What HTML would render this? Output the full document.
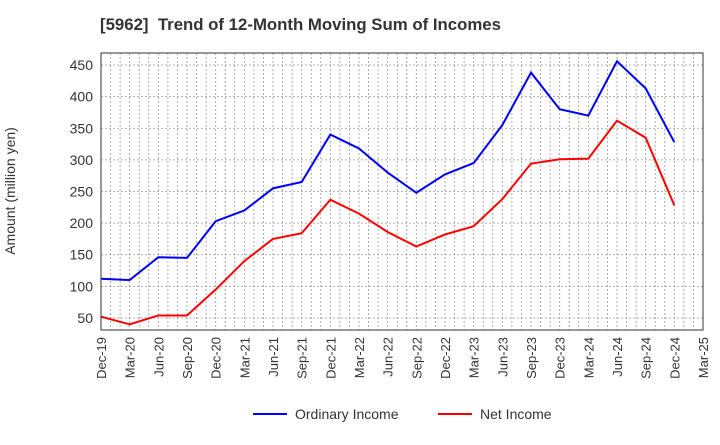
<!DOCTYPE html>
<html><head><meta charset="utf-8"><style>body{margin:0;background:#fff;font-family:"Liberation Sans",sans-serif}</style></head>
<body>
<svg id="c" width="720" height="440" xmlns="http://www.w3.org/2000/svg">
<text x="100" y="30" font-size="16.8" font-weight="bold" fill="#333" xml:space="preserve">[5962]  Trend of 12-Month Moving Sum of Incomes</text>
<text transform="translate(15,191) rotate(-90)" text-anchor="middle" font-size="14" fill="#333">Amount (million yen)</text>
<g id="grid"></g><g id="ticks"></g><g id="lines"></g>
<rect x="101" y="53" width="602" height="277" fill="none" stroke="#333" stroke-width="1"/>
<g>
<line x1="253" y1="414" x2="287" y2="414" stroke="#0000ff" stroke-width="2"/>
<text x="295" y="419" font-size="14" fill="#333">Ordinary Income</text>
<line x1="438" y1="414" x2="472" y2="414" stroke="#ff0000" stroke-width="2"/>
<text x="480" y="419" font-size="14" fill="#333">Net Income</text>
</g>
</svg>
<script>
const categories=["Dec-19","Mar-20","Jun-20","Sep-20","Dec-20","Mar-21","Jun-21","Sep-21","Dec-21","Mar-22","Jun-22","Sep-22","Dec-22","Mar-23","Jun-23","Sep-23","Dec-23","Mar-24","Jun-24","Sep-24","Dec-24","Mar-25"];
const ordinaryIncome=[112,110,146,145,203,220,255,265,340,318,280,248,277,295,355,438,380,370,456,413,328];
const netIncome=[52,40,54,54,95,140,175,184,237,215,186,163,182,195,238,294,301,302,362,335,228];
const yTicks=[50,100,150,200,250,300,350,400,450];
const NS="http://www.w3.org/2000/svg";
const L=101,R=703,T=53,B=330,yMin=31,yMax=469;
const xs=i=>L+(R-L)*i/(categories.length-1);
const ys=v=>B-(v-yMin)/(yMax-yMin)*(B-T);
function mk(tag,attrs,parent){const e=document.createElementNS(NS,tag);for(const k in attrs)e.setAttribute(k,attrs[k]);parent.appendChild(e);return e;}
const grid=document.getElementById('grid'),ticks=document.getElementById('ticks'),lines=document.getElementById('lines');
for(let m=1;m<(categories.length-1)*3;m++){const x=L+(R-L)*m/((categories.length-1)*3);
const g=mk('line',{x1:x,x2:x,y1:T,y2:B,stroke:'#999','stroke-dasharray':'2,2','stroke-width':0.8},grid);

}
yTicks.forEach(v=>{const y=ys(v);
const g=mk('line',{x1:L,x2:R,y1:y,y2:y,stroke:'#999','stroke-dasharray':'2,2','stroke-width':0.8},grid);


const t=mk('text',{x:L-8,y:y+5,'text-anchor':'end','font-size':14,fill:'#333'},ticks);t.textContent=v;

});
categories.forEach((c,i)=>{const x=xs(i);
const t=mk('text',{transform:`translate(${x+5},337) rotate(-90)`,'text-anchor':'end','font-size':13,fill:'#333'},ticks);t.textContent=c;

});
function series(d,col,name){const p=mk('polyline',{points:d.map((v,i)=>xs(i)+','+ys(v)).join(' '),fill:'none',stroke:col,'stroke-width':2},lines);

}
series(ordinaryIncome,'#0000ff','ordinary-income-line');
series(netIncome,'#ff0000','net-income-line');
</script>
</body></html>
